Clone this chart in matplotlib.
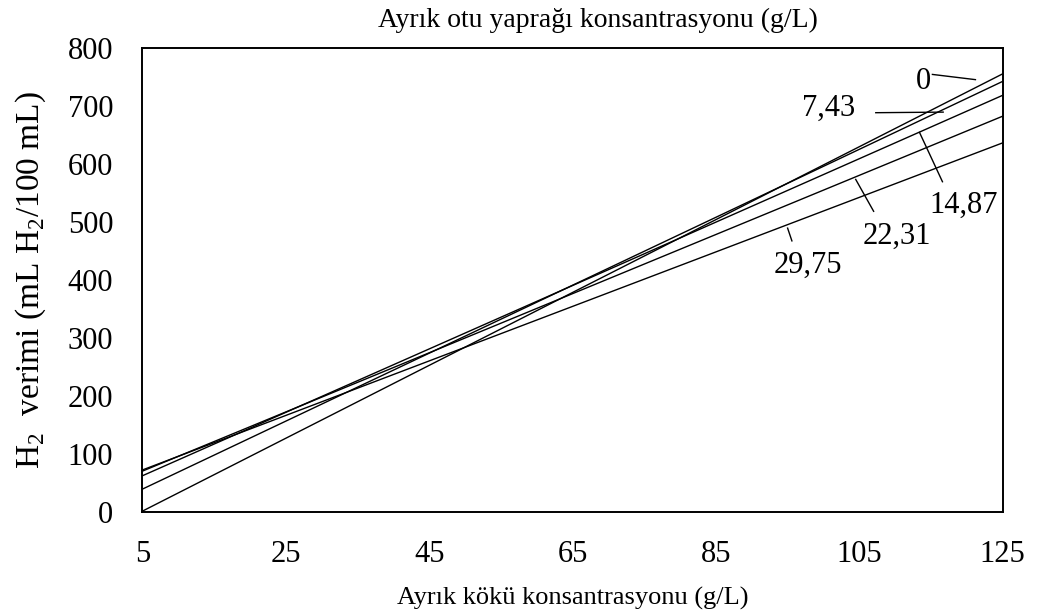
import numpy as np
import matplotlib
matplotlib.use("Agg")
import matplotlib.pyplot as plt

plt.rcParams['font.family'] = ['Liberation Serif', 'DejaVu Serif']
plt.rcParams['mathtext.fontset'] = 'custom'
plt.rcParams['mathtext.rm'] = 'Liberation Serif'

# root concentration range (g/L)
x_range = [5, 125]
# leaf concentrations (g/L) and fitted line end values (H2 yield at x=5 and x=125)
leaf_labels = ['0', '7,43', '14,87', '22,31', '29,75']
y_start = [2, 40, 63, 71, 73]
y_end = [756, 743, 719, 683, 637]

# label text positions and leader lines (data coords)
label_pos = [(114.0, 742), (100.7, 697), (119.6, 530), (110.3, 475), (97.8, 425)]
leader_start = [(115.2, 755), (107.3, 689), (113.4, 655), (104.5, 574), (95.0, 490)]
leader_end = [(121.2, 746), (116.7, 690), (116.6, 570), (107.0, 519), (95.6, 468)]

fig = plt.figure(figsize=(10.37, 6.14), dpi=100)
ax = fig.add_axes([0.1373, 0.1656, 0.8296, 0.7557])

for ys, ye in zip(y_start, y_end):
    ax.plot(x_range, [ys, ye], color='black', lw=1.0)

for lab, p, s, e in zip(leaf_labels, label_pos, leader_start, leader_end):
    ax.plot([s[0], e[0]], [s[1], e[1]], color='black', lw=1.0)
    ax.text(p[0], p[1], lab, fontsize=22, ha='center', va='center')

ax.set_xlim(5, 125)
ax.set_ylim(0, 800)
ax.set_xticks(np.arange(5, 126, 20))
ax.set_yticks(np.arange(0, 801, 100))
ax.tick_params(length=0, labelsize=22)
ax.tick_params(axis='x', pad=20)
ax.tick_params(axis='y', pad=21)
for sp in ax.spines.values():
    sp.set_linewidth(1.4)

ax.set_xlabel('Ayrık kökü konsantrasyonu (g/L)', fontsize=19, labelpad=13)
ax.set_ylabel(r'H$_\mathrm{2}$  verimi (mL H$_\mathrm{2}$/100 mL)', fontsize=24, labelpad=14)
ax.set_title('Ayrık otu yaprağı konsantrasyonu (g/L)', fontsize=20, pad=15, x=0.53)

fig.savefig('out.png', dpi=100)
